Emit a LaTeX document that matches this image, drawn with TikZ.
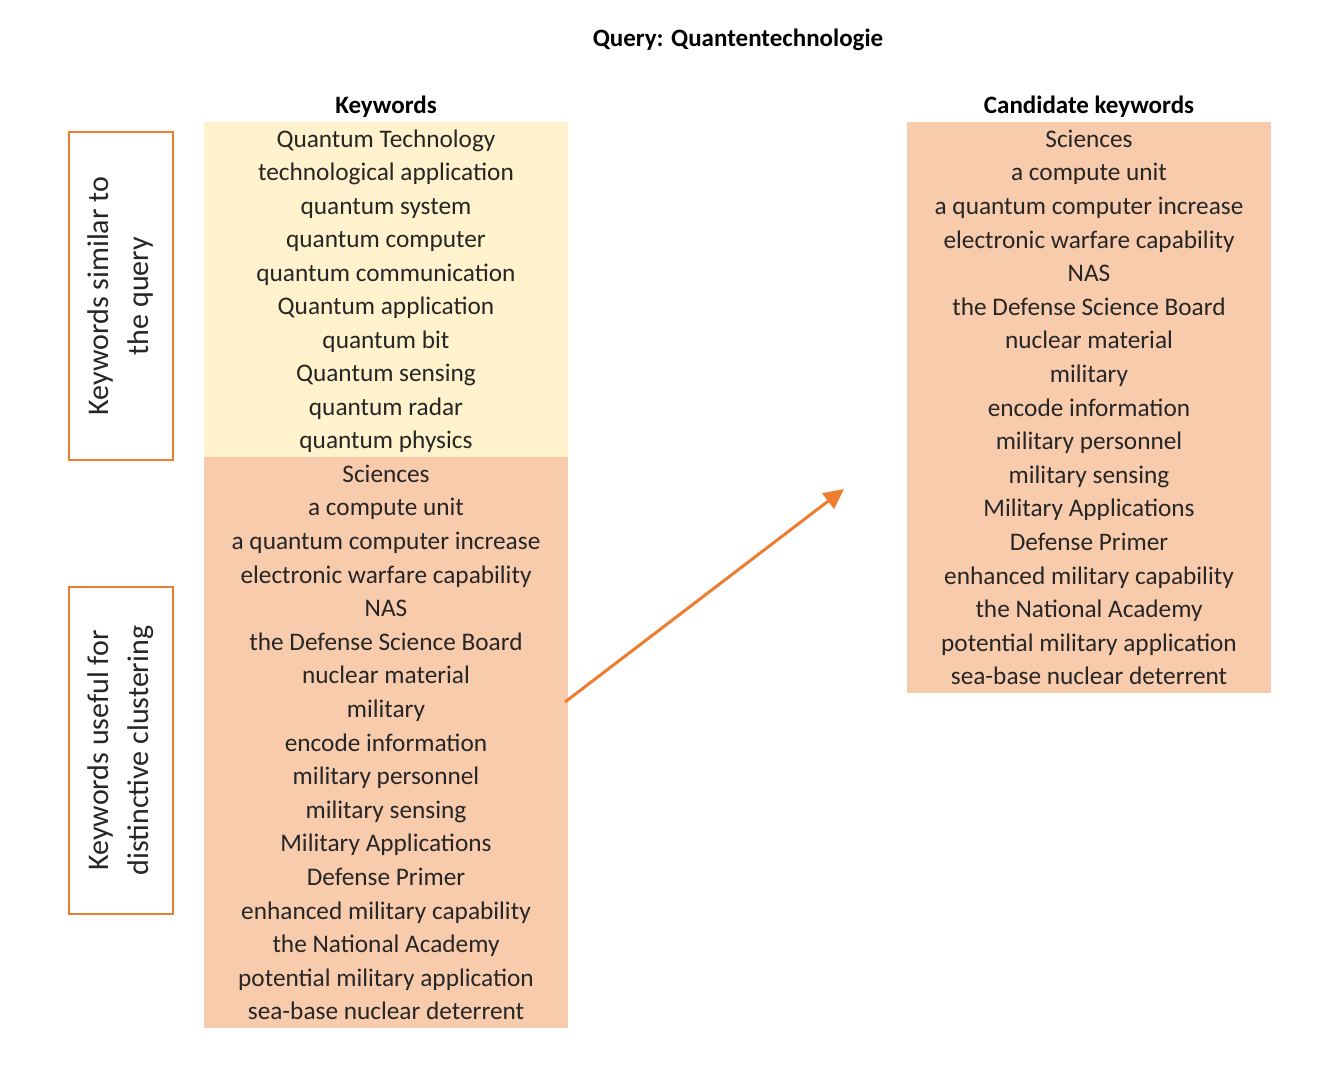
\documentclass[tikz,border=0pt]{standalone}
\usepackage{fontspec}
\setmainfont{Carlito}
\usetikzlibrary{arrows.meta}
\definecolor{kwyellow}{HTML}{FFF2CC}
\definecolor{kworange}{HTML}{F8CBAD}
\definecolor{accent}{HTML}{ED7D31}
\definecolor{txt}{HTML}{262626}
\tikzset{
  cell/.style={inner sep=0pt, text height=20pt, text depth=3pt, text=txt, font=\fontsize{25.3}{30}\selectfont},
  head/.style={inner sep=0pt, text height=20pt, text depth=3pt, text=black, font=\fontsize{25}{30}\selectfont\bfseries},
  block/.style={inner sep=0pt, draw=none},
  sidebox/.style={draw=accent, line width=2pt, inner sep=0pt, fill=white},
  sidetext/.style={inner sep=0pt, text=txt, align=center, rotate=90, font=\fontsize{30}{40}\selectfont},
  link/.style={draw=accent, line width=3pt, -{Triangle[length=20pt,width=19pt]}}
}
\begin{document}
\begin{tikzpicture}[x=1pt,y=-1pt]
\useasboundingbox (0,0) rectangle (1343,1074);
\node[head] (title) at (738,38) {Query: Quantentechnologie};
\node[head] (hk) at (386,105) {Keywords};
\node[head] (hc) at (1089,105) {Candidate keywords};
% blocks
\node[block, fill=kwyellow, minimum width=364pt, minimum height=335pt, anchor=north west] (simblock) at (204,122) {};
\node[block, fill=kworange, minimum width=364pt, minimum height=571pt, anchor=north west] (useblock) at (204,457) {};
\node[block, fill=kworange, minimum width=364pt, minimum height=571pt, anchor=north west] (candblock) at (907,122) {};
% similar keywords
\foreach \t [count=\i] in {Quantum Technology, technological application, quantum system, quantum computer, quantum communication, Quantum application, quantum bit, Quantum sensing, quantum radar, quantum physics}
  \node[cell] (s\i) at (386,{122+33.5*(\i-0.5)}) {\t};
% useful keywords (left) and candidate keywords (right)
\foreach \t [count=\i] in {Sciences, a compute unit, a quantum computer increase, electronic warfare capability, NAS, the Defense Science Board, nuclear material, military, encode information, military personnel, military sensing, Military Applications, Defense Primer, enhanced military capability, the National Academy, potential military application, sea-base nuclear deterrent}
{
  \node[cell] (u\i) at (386,{457+33.6*(\i-0.5)}) {\t};
  \node[cell] (c\i) at (1089,{122+33.6*(\i-0.5)}) {\t};
}
% side boxes
\node[sidebox, minimum width=104pt, minimum height=328pt, anchor=north west] (simbox) at (68,131) {};
\node[sidetext] (simtext) at (simbox.center) {Keywords similar to\\the query};
\node[sidebox, minimum width=104pt, minimum height=327pt, anchor=north west] (usebox) at (68,586) {};
\node[sidetext] (usetext) at (usebox.center) {Keywords useful for\\distinctive clustering};
% arrow
\coordinate (astart) at (565,702);
\coordinate (aend) at (844,489);
\draw[link] (astart) -- (aend);
\end{tikzpicture}
\end{document}
